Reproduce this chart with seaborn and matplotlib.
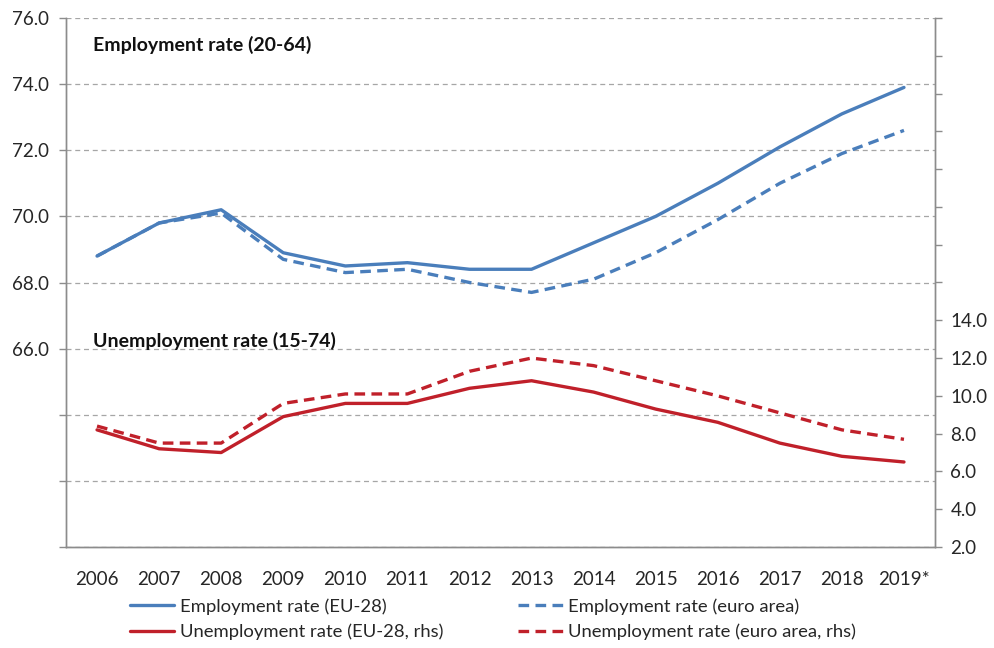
import numpy as np
import pandas as pd
import matplotlib
matplotlib.use("Agg")
import matplotlib.pyplot as plt
import seaborn as sns
from matplotlib.lines import Line2D

years = ["2006", "2007", "2008", "2009", "2010", "2011", "2012",
         "2013", "2014", "2015", "2016", "2017", "2018", "2019*"]

emp_eu28 = [68.8, 69.8, 70.2, 68.9, 68.5, 68.6, 68.4,
            68.4, 69.2, 70.0, 71.0, 72.1, 73.1, 73.9]
emp_ea = [68.8, 69.8, 70.1, 68.7, 68.3, 68.4, 68.0,
          67.7, 68.1, 68.9, 69.9, 71.0, 71.9, 72.6]
unemp_eu28 = [8.2, 7.2, 7.0, 8.9, 9.6, 9.6, 10.4,
              10.8, 10.2, 9.3, 8.6, 7.5, 6.8, 6.5]
unemp_ea = [8.4, 7.5, 7.5, 9.6, 10.1, 10.1, 11.3,
            12.0, 11.6, 10.8, 10.0, 9.1, 8.2, 7.7]

labels = ["Employment rate (EU-28)", "Employment rate (euro area)",
          "Unemployment rate (EU-28, rhs)", "Unemployment rate (euro area, rhs)"]

blue = "#4A7EBB"
red = "#C0202A"
grey = "#8C8C8C"

sns.set_theme(style="white")
plt.rcParams["font.family"] = ["Lato", "DejaVu Sans"]

pos = np.arange(len(years))
emp = pd.DataFrame({"pos": np.tile(pos, 2),
                    "rate": emp_eu28 + emp_ea,
                    "series": [labels[0]] * len(pos) + [labels[1]] * len(pos)})
unemp = pd.DataFrame({"pos": np.tile(pos, 2),
                      "rate": unemp_eu28 + unemp_ea,
                      "series": [labels[2]] * len(pos) + [labels[3]] * len(pos)})

fig = plt.figure(figsize=(9.94, 6.48), dpi=100)
ax = fig.add_axes([66 / 994, 1 - 547 / 648, (935 - 66) / 994, (547 - 18) / 648])
ax2 = ax.twinx()

lw = 2.4
dash = (3.2, 1.9)
sns.lineplot(data=emp, x="pos", y="rate", hue="series", style="series",
             palette=[blue, blue], dashes=["", dash], linewidth=lw,
             ax=ax, legend=False)
sns.lineplot(data=unemp, x="pos", y="rate", hue="series", style="series",
             palette=[red, red], dashes=["", dash], linewidth=lw,
             ax=ax2, legend=False)

# left axis
ax.set_ylim(60, 76)
ax.set_yticks(np.arange(60, 77, 2))
ax.set_yticklabels(["" if v < 66 else f"{v:.1f}" for v in np.arange(60, 77, 2)])
ax.yaxis.grid(True, linestyle=(0, (4, 3)), color="#A6A6A6", linewidth=0.9)
ax.set_axisbelow(True)

# right axis
ax2.set_ylim(2, 30)
ax2.set_yticks(np.arange(2, 31, 2))
ax2.set_yticklabels([f"{v:.1f}" if v <= 14 else "" for v in np.arange(2, 31, 2)])

# category x axis with ticks between categories
fs = 13.5
ax.set_xlim(-0.5, len(years) - 0.5)
ax.set_xticks(pos)
ax.set_xticklabels(years)
ax.set_xticks(np.arange(-0.5, len(years)), minor=True)
ax.tick_params(axis="x", which="major", length=0, pad=17, labelsize=fs)
ax.tick_params(axis="x", which="minor", length=5, color=grey, width=1, direction="out")
ax.tick_params(axis="y", length=5, color=grey, width=1, labelsize=fs, pad=7,
               direction="out", left=True)
ax2.tick_params(axis="y", length=5, color=grey, width=1, labelsize=fs, pad=6,
                direction="out", right=True)

for a in (ax, ax2):
    a.set_xlabel("")
    a.set_ylabel("")
    a.spines["top"].set_visible(False)
    for s in ("left", "right", "bottom"):
        a.spines[s].set_color(grey)
        a.spines[s].set_linewidth(1)

ax.text(93 / 994, 1 - 45 / 648, "Employment rate (20-64)", transform=fig.transFigure,
        fontsize=14, fontweight="bold", va="center", ha="left", color="#111111")
ax.text(93 / 994, 1 - 341 / 648, "Unemployment rate (15-74)", transform=fig.transFigure,
        fontsize=14, fontweight="bold", va="center", ha="left", color="#111111")

handles = [Line2D([], [], color=blue, lw=lw),
           Line2D([], [], color=red, lw=lw),
           Line2D([], [], color=blue, lw=lw, dashes=dash),
           Line2D([], [], color=red, lw=lw, dashes=dash)]
leg_labels = [labels[0], labels[2], labels[1], labels[3]]
fig.legend(handles, leg_labels, ncol=2, loc="upper left",
           bbox_to_anchor=(130 / 994, 1 - 598 / 648), frameon=False,
           fontsize=13.3, handlelength=2.4, handletextpad=0.3,
           columnspacing=4.05, labelspacing=0.5, borderaxespad=0, borderpad=0)

fig.savefig("out.png", dpi=100)
